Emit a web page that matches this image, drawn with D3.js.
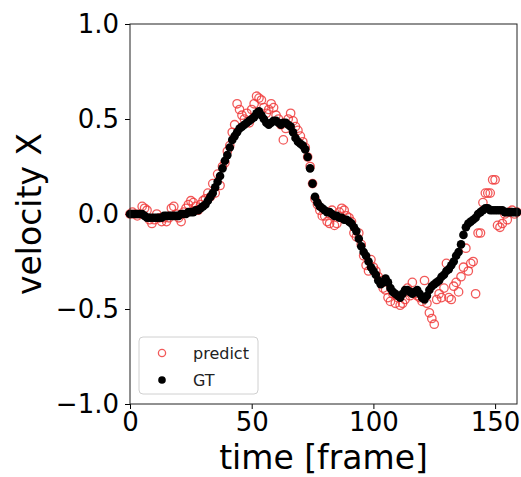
<!DOCTYPE html>
<html>
<head>
<meta charset="utf-8">
<script src="https://cdn.jsdelivr.net/npm/d3@7"></script>
<style>
  body { margin: 0; background: #fff; }
  svg { display: block; font-family: "DejaVu Sans", sans-serif; }
  .tick text { fill: #000; }
</style>
</head>
<body>
<svg id="chart" width="521" height="477"></svg>
<script>
// ground-truth velocity, one value per frame (0..159)
const gtValues = [
  0.0, 0.0, 0.0, 0.0, 0.0, 0.0, -0.01, -0.02, -0.02, -0.02,
  -0.02, -0.02, -0.02, -0.02, -0.01, -0.01, -0.01, -0.01, -0.01, -0.01,
  -0.01, 0.0, 0.0, 0.0, 0.01, 0.01, 0.01, 0.02, 0.02, 0.03,
  0.04, 0.05, 0.07, 0.09, 0.11, 0.14, 0.17, 0.2, 0.24, 0.28,
  0.31, 0.35, 0.39, 0.41, 0.43, 0.45, 0.46, 0.47, 0.48, 0.49,
  0.5, 0.51, 0.53, 0.54, 0.52, 0.5, 0.48, 0.47, 0.48, 0.49,
  0.49, 0.48, 0.47, 0.48, 0.48, 0.47, 0.46, 0.43, 0.4, 0.38,
  0.37, 0.36, 0.34, 0.3, 0.24, 0.16, 0.09, 0.06, 0.04, 0.03,
  0.02, 0.01, 0.01, 0.0, -0.01, -0.01, -0.02, -0.02, -0.03, -0.03,
  -0.04, -0.05, -0.07, -0.09, -0.13, -0.17, -0.2, -0.22, -0.25, -0.28,
  -0.3, -0.32, -0.35, -0.37, -0.36, -0.34, -0.36, -0.39, -0.41, -0.42,
  -0.43, -0.44, -0.42, -0.4, -0.4, -0.41, -0.42, -0.41, -0.4, -0.42,
  -0.44, -0.45, -0.43, -0.4, -0.38, -0.37, -0.36, -0.35, -0.33, -0.32,
  -0.3, -0.29, -0.27, -0.25, -0.22, -0.2, -0.16, -0.11, -0.07, -0.05,
  -0.04, -0.03, -0.02, 0.0, 0.01, 0.02, 0.03, 0.03, 0.02, 0.02,
  0.02, 0.02, 0.02, 0.02, 0.01, 0.01, 0.01, 0.01, 0.01, 0.01
];

// predicted velocity, one value per frame (0..159)
const predictValues = [
  0.0, 0.01, 0.0, -0.01, 0.0, 0.04, 0.03, 0.02, -0.03, -0.05,
  -0.03, 0.0, -0.02, -0.04, -0.02, -0.04, -0.02, 0.03, 0.04, 0.0,
  -0.02, -0.04, 0.01, 0.03, 0.05, 0.07, 0.06, 0.04, 0.02, 0.05,
  0.07, 0.08, 0.11, 0.09, 0.16, 0.11, 0.21, 0.15, 0.25, 0.27,
  0.33, 0.36, 0.43, 0.47, 0.58, 0.55, 0.52, 0.5, 0.53, 0.48,
  0.55, 0.58, 0.62, 0.61, 0.6, 0.56, 0.53, 0.55, 0.58, 0.56,
  0.52, 0.5, 0.47, 0.39, 0.45, 0.5, 0.53, 0.49, 0.46, 0.44,
  0.41, 0.38, 0.35, 0.3, 0.25, 0.16, 0.08, 0.05, 0.02, -0.01,
  -0.01, -0.04, -0.05, 0.02, -0.06, -0.05, 0.01, 0.03, 0.02, -0.01,
  -0.02, -0.04, -0.1, -0.12, -0.1, -0.16, -0.22, -0.27, -0.3, -0.24,
  -0.28, -0.3, -0.33, -0.35, -0.39, -0.4, -0.44, -0.46, -0.42, -0.47,
  -0.44, -0.48, -0.47, -0.45, -0.39, -0.43, -0.36, -0.42, -0.43, -0.44,
  -0.46, -0.35, -0.47, -0.52, -0.55, -0.58, -0.45, -0.42, -0.44, -0.39,
  -0.26, -0.44, -0.45, -0.38, -0.36, -0.41, -0.33, -0.28, -0.18, -0.3,
  -0.26, -0.25, -0.42, -0.1, -0.1, 0.06, 0.11, 0.11, 0.11, 0.18,
  0.18, -0.06, -0.07, -0.05, 0.0, -0.03, 0.01, 0.02, 0.0, 0.01
];

const xTicks = [0, 50, 100, 150];
const yTicks = [-1.0, -0.5, 0.0, 0.5, 1.0];
const seriesNames = ['predict', 'GT'];

const frames = gtValues.map((d, i) => i);

// plot area in pixels
const margin = { left: 130, right: 4, top: 24, bottom: 73 };
const width = 521, height = 477;

const svg = d3.select('#chart');

const xScale = d3.scaleLinear()
  .domain([0, frames.length - 1])
  .range([margin.left, width - margin.right]);

const yScale = d3.scaleLinear()
  .domain([-1, 1])
  .range([height - margin.bottom, margin.top]);

// axes
const xAxis = d3.axisBottom(xScale)
  .tickValues(xTicks)
  .tickSize(5)
  .tickSizeOuter(0)
  .tickPadding(4)
  .tickFormat(d3.format('d'));

const yAxis = d3.axisLeft(yScale)
  .tickValues(yTicks)
  .tickSize(5)
  .tickSizeOuter(0)
  .tickPadding(6)
  .tickFormat((d) => d3.format('.1f')(d).replace('-', '\u2212'));

const xAxisEl = svg.append('g')
  .attr('transform', `translate(0, ${ yScale(-1) })`)
  .call(xAxis);

const yAxisEl = svg.append('g')
  .attr('transform', `translate(${ xScale(0) }, 0)`)
  .call(yAxis);

[xAxisEl, yAxisEl].forEach((el) => {
  el.select('.domain').remove();
  el.selectAll('.tick line').attr('stroke', '#000').attr('stroke-width', 1);
  el.selectAll('.tick text')
    .attr('font-size', 26)
    .attr('font-family', '"DejaVu Sans", sans-serif');
});

// data: predictions first so GT sits on top
const plot = svg.append('g');

plot.append('g').attr('class', 'g-predict')
  .selectAll('circle')
  .data(predictValues)
    .enter()
  .append('circle')
    .attr('cx', (d, i) => xScale(frames[i]))
    .attr('cy', (d) => yScale(d))
    .attr('r', 4.2)
    .attr('fill', 'none')
    .attr('stroke', '#f03c3c')
    .attr('stroke-opacity', 0.85)
    .attr('stroke-width', 1.3);

plot.append('g').attr('class', 'g-gt')
  .selectAll('circle')
  .data(gtValues)
    .enter()
  .append('circle')
    .attr('cx', (d, i) => xScale(frames[i]))
    .attr('cy', (d) => yScale(d))
    .attr('r', 4.3)
    .attr('fill', '#000');

// frame around the plot
svg.append('rect')
  .attr('x', xScale(0))
  .attr('y', yScale(1))
  .attr('width', xScale(frames.length - 1) - xScale(0))
  .attr('height', yScale(-1) - yScale(1))
  .attr('fill', 'none')
  .attr('stroke', '#222')
  .attr('stroke-width', 1);

// axis labels
svg.append('text')
  .attr('x', (xScale(0) + xScale(frames.length - 1)) / 2)
  .attr('y', 469)
  .attr('text-anchor', 'middle')
  .attr('font-size', 33)
  .text('time [frame]');

svg.append('text')
  .attr('transform', `translate(41, ${ (yScale(1) + yScale(-1)) / 2 }) rotate(-90)`)
  .attr('text-anchor', 'middle')
  .attr('font-size', 33)
  .text('velocity X');

// legend
const legend = svg.append('g').attr('transform', 'translate(139, 337)');

legend.append('rect')
  .attr('width', 119)
  .attr('height', 57)
  .attr('rx', 4)
  .attr('fill', '#fff')
  .attr('fill-opacity', 0.8)
  .attr('stroke', '#d0d0d0')
  .attr('stroke-width', 1);

seriesNames.forEach((name, i) => {
  const ly = 16 + i * 27;
  if (name === 'predict') {
    legend.append('circle')
      .attr('cx', 23).attr('cy', ly).attr('r', 3.6)
      .attr('fill', 'none')
      .attr('stroke', '#f03c3c')
      .attr('stroke-opacity', 0.85)
      .attr('stroke-width', 1.3);
  } else {
    legend.append('circle')
      .attr('cx', 23).attr('cy', ly).attr('r', 3.8)
      .attr('fill', '#000');
  }
  legend.append('text')
    .attr('x', 54)
    .attr('y', ly)
    .attr('dy', '0.36em')
    .attr('font-size', 16)
    .attr('fill', '#222')
    .text(name);
});
</script>
</body>
</html>
